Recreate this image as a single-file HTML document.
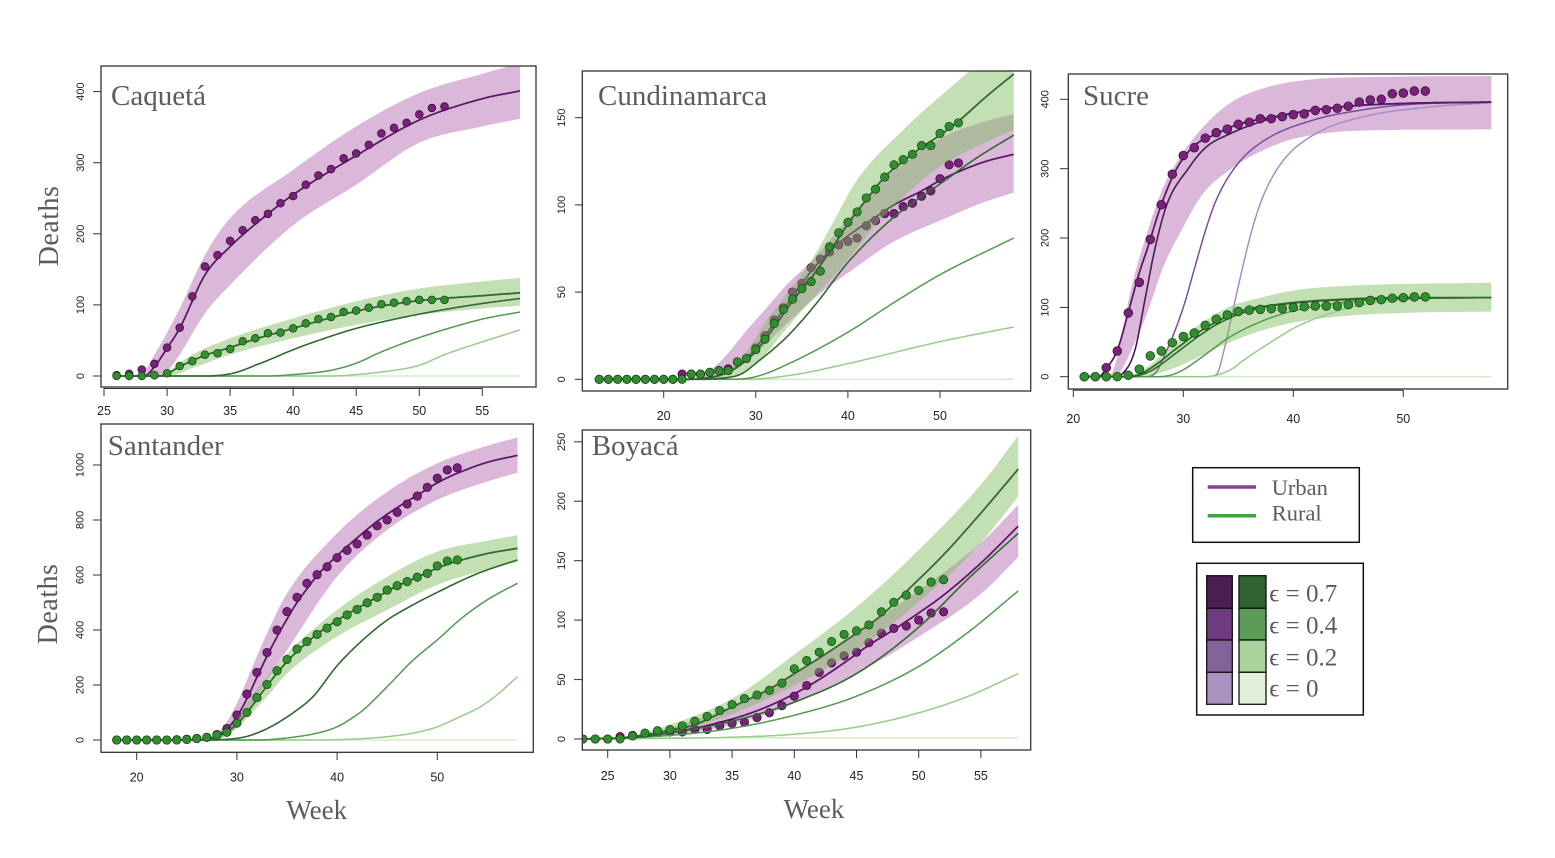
<!DOCTYPE html>
<html><head><meta charset="utf-8">
<style>
html,body{margin:0;padding:0;background:#fff;}
svg{display:block;}
.t{font-family:"Liberation Serif",serif;fill:#5c5c5c;}
.ax{font-family:"Liberation Sans",sans-serif;fill:#222;}
.xl{font-size:12.5px;text-anchor:middle;}
.yl{font-size:11px;text-anchor:middle;}
</style></head>
<body>
<svg width="1555" height="858" viewBox="0 0 1555 858" xmlns="http://www.w3.org/2000/svg">
<defs>
<clipPath id="c1"><rect x="101" y="66" width="435" height="321"/></clipPath>
<clipPath id="c2"><rect x="582.3" y="71" width="448.4" height="320"/></clipPath>
<clipPath id="c3"><rect x="1068.3" y="74" width="439.4" height="315"/></clipPath>
<clipPath id="c4"><rect x="101" y="424" width="432.3" height="328.3"/></clipPath>
<clipPath id="c5"><rect x="582.3" y="430" width="448.4" height="320"/></clipPath>
</defs>
<rect width="1555" height="858" fill="#fff"/>
<g id="g1" clip-path="url(#c1)"></g>
<g id="g2" clip-path="url(#c2)"></g>
<g id="g3" clip-path="url(#c3)"></g>
<g id="g4" clip-path="url(#c4)"></g>
<g id="g5" clip-path="url(#c5)"></g>

<g fill="none" stroke="#333" stroke-width="1.3">
<rect x="101" y="66" width="435" height="321"/>
<rect x="582.3" y="71" width="448.4" height="320"/>
<rect x="1068.3" y="74" width="439.4" height="315"/>
<rect x="101" y="424" width="432.3" height="328.3"/>
<rect x="582.3" y="430" width="448.4" height="320"/>
</g>

<!-- ticks -->
<g stroke="#333" stroke-width="1">
<!-- Caqueta -->
<line x1="104" y1="388.5" x2="482.3" y2="388.5"/>
<line x1="104" y1="388" x2="104" y2="396"/><line x1="167.1" y1="388" x2="167.1" y2="396"/><line x1="230.1" y1="388" x2="230.1" y2="396"/><line x1="293.2" y1="388" x2="293.2" y2="396"/><line x1="356.2" y1="388" x2="356.2" y2="396"/><line x1="419.3" y1="388" x2="419.3" y2="396"/><line x1="482.3" y1="388" x2="482.3" y2="396"/>
<line x1="93" y1="376" x2="101" y2="376"/><line x1="93" y1="304.9" x2="101" y2="304.9"/><line x1="93" y1="233.8" x2="101" y2="233.8"/><line x1="93" y1="162.7" x2="101" y2="162.7"/><line x1="93" y1="91.6" x2="101" y2="91.6"/>
<!-- Cundinamarca -->
<line x1="663.7" y1="391" x2="663.7" y2="398"/><line x1="755.8" y1="391" x2="755.8" y2="398"/><line x1="847.9" y1="391" x2="847.9" y2="398"/><line x1="940" y1="391" x2="940" y2="398"/>
<line x1="575" y1="379.3" x2="582.3" y2="379.3"/><line x1="575" y1="292.1" x2="582.3" y2="292.1"/><line x1="575" y1="204.9" x2="582.3" y2="204.9"/><line x1="575" y1="117.7" x2="582.3" y2="117.7"/>
<!-- Sucre -->
<line x1="1073.3" y1="390.3" x2="1403.3" y2="390.3"/>
<line x1="1073.3" y1="390" x2="1073.3" y2="397"/><line x1="1183.3" y1="390" x2="1183.3" y2="397"/><line x1="1293.3" y1="390" x2="1293.3" y2="397"/><line x1="1403.3" y1="390" x2="1403.3" y2="397"/>
<line x1="1060" y1="376.7" x2="1068.3" y2="376.7"/><line x1="1060" y1="307.4" x2="1068.3" y2="307.4"/><line x1="1060" y1="238" x2="1068.3" y2="238"/><line x1="1060" y1="168.7" x2="1068.3" y2="168.7"/><line x1="1060" y1="99.3" x2="1068.3" y2="99.3"/>
<!-- Santander -->
<line x1="136.7" y1="752.3" x2="136.7" y2="760"/><line x1="236.9" y1="752.3" x2="236.9" y2="760"/><line x1="337.1" y1="752.3" x2="337.1" y2="760"/><line x1="437.3" y1="752.3" x2="437.3" y2="760"/>
<line x1="93" y1="740" x2="101" y2="740"/><line x1="93" y1="685" x2="101" y2="685"/><line x1="93" y1="630" x2="101" y2="630"/><line x1="93" y1="575" x2="101" y2="575"/><line x1="93" y1="520" x2="101" y2="520"/><line x1="93" y1="465" x2="101" y2="465"/>
<!-- Boyaca -->
<line x1="607.7" y1="750" x2="607.7" y2="758"/><line x1="669.9" y1="750" x2="669.9" y2="758"/><line x1="732.1" y1="750" x2="732.1" y2="758"/><line x1="794.3" y1="750" x2="794.3" y2="758"/><line x1="856.5" y1="750" x2="856.5" y2="758"/><line x1="918.7" y1="750" x2="918.7" y2="758"/><line x1="980.9" y1="750" x2="980.9" y2="758"/>
<line x1="574" y1="739" x2="582.3" y2="739"/><line x1="574" y1="679.6" x2="582.3" y2="679.6"/><line x1="574" y1="620.1" x2="582.3" y2="620.1"/><line x1="574" y1="560.7" x2="582.3" y2="560.7"/><line x1="574" y1="501.2" x2="582.3" y2="501.2"/><line x1="574" y1="441.8" x2="582.3" y2="441.8"/>
</g>

<!-- tick labels -->
<g class="ax xl">
<text x="104" y="415">25</text><text x="167.1" y="415">30</text><text x="230.1" y="415">35</text><text x="293.2" y="415">40</text><text x="356.2" y="415">45</text><text x="419.3" y="415">50</text><text x="482.3" y="415">55</text>
<text x="663.7" y="420">20</text><text x="755.8" y="420">30</text><text x="847.9" y="420">40</text><text x="940" y="420">50</text>
<text x="1073.3" y="423">20</text><text x="1183.3" y="423">30</text><text x="1293.3" y="423">40</text><text x="1403.3" y="423">50</text>
<text x="136.7" y="781.5">20</text><text x="236.9" y="781.5">30</text><text x="337.1" y="781.5">40</text><text x="437.3" y="781.5">50</text>
<text x="607.7" y="780">25</text><text x="669.9" y="780">30</text><text x="732.1" y="780">35</text><text x="794.3" y="780">40</text><text x="856.5" y="780">45</text><text x="918.7" y="780">50</text><text x="980.9" y="780">55</text>
</g>
<g class="ax yl">
<text transform="translate(84,376) rotate(-90)">0</text><text transform="translate(84,304.9) rotate(-90)">100</text><text transform="translate(84,233.8) rotate(-90)">200</text><text transform="translate(84,162.7) rotate(-90)">300</text><text transform="translate(84,91.6) rotate(-90)">400</text>
<text transform="translate(565,379.3) rotate(-90)">0</text><text transform="translate(565,292.1) rotate(-90)">50</text><text transform="translate(565,204.9) rotate(-90)">100</text><text transform="translate(565,117.7) rotate(-90)">150</text>
<text transform="translate(1048.5,376.7) rotate(-90)">0</text><text transform="translate(1048.5,307.4) rotate(-90)">100</text><text transform="translate(1048.5,238) rotate(-90)">200</text><text transform="translate(1048.5,168.7) rotate(-90)">300</text><text transform="translate(1048.5,99.3) rotate(-90)">400</text>
<text transform="translate(83.5,740) rotate(-90)">0</text><text transform="translate(83.5,685) rotate(-90)">200</text><text transform="translate(83.5,630) rotate(-90)">400</text><text transform="translate(83.5,575) rotate(-90)">600</text><text transform="translate(83.5,520) rotate(-90)">800</text><text transform="translate(83.5,465) rotate(-90)">1000</text>
<text transform="translate(565,739) rotate(-90)">0</text><text transform="translate(565,679.6) rotate(-90)">50</text><text transform="translate(565,620.1) rotate(-90)">100</text><text transform="translate(565,560.7) rotate(-90)">150</text><text transform="translate(565,501.2) rotate(-90)">200</text><text transform="translate(565,441.8) rotate(-90)">250</text>
</g>

<!-- titles -->
<g class="t" font-size="29">
<text x="111" y="105">Caquetá</text>
<text x="598" y="105">Cundinamarca</text>
<text x="1083" y="105">Sucre</text>
<text x="107.7" y="455">Santander</text>
<text x="591.7" y="455">Boyacá</text>
</g>
<g class="t" font-size="28" text-anchor="middle" letter-spacing="0.5">
<text transform="translate(58,226) rotate(-90)">Deaths</text>
<text transform="translate(57,604) rotate(-90)">Deaths</text>
</g>
<g class="t" font-size="27" text-anchor="middle">
<text x="316.7" y="819">Week</text>
<text x="814" y="818">Week</text>
</g>

<!-- legend 1 -->
<rect x="1192.7" y="467.7" width="166.6" height="74.6" fill="#fff" stroke="#111" stroke-width="1.5"/>
<line x1="1207.7" y1="487" x2="1256" y2="487" stroke="#8b3d97" stroke-width="3.5"/>
<line x1="1207.7" y1="515.7" x2="1256" y2="515.7" stroke="#3aa83a" stroke-width="3.5"/>
<text class="t" x="1271.7" y="495" font-size="22.5">Urban</text>
<text class="t" x="1271.7" y="520.7" font-size="22.5">Rural</text>

<!-- legend 2 -->
<rect x="1196.7" y="563.3" width="166.6" height="151.7" fill="#fff" stroke="#111" stroke-width="1.5"/>
<g stroke="#111" stroke-width="1.3">
<rect x="1206.7" y="575.7" width="25.6" height="32.6" fill="#4b1f50"/>
<rect x="1206.7" y="608.3" width="25.6" height="31.7" fill="#6e3b80"/>
<rect x="1206.7" y="640" width="25.6" height="32.3" fill="#826399"/>
<rect x="1206.7" y="672.3" width="25.6" height="32" fill="#ab90c2"/>
<rect x="1239" y="575.7" width="27" height="32.6" fill="#2e6430"/>
<rect x="1239" y="608.3" width="27" height="31.7" fill="#5a9c58"/>
<rect x="1239" y="640" width="27" height="32.3" fill="#a8d39a"/>
<rect x="1239" y="672.3" width="27" height="32" fill="#e1efdb"/>
</g>
<g class="t" font-size="25">
<text x="1269.3" y="601.7">ϵ = 0.7</text>
<text x="1269.3" y="633.3">ϵ = 0.4</text>
<text x="1269.3" y="665.7">ϵ = 0.2</text>
<text x="1269.3" y="696.7">ϵ = 0</text>
</g>
</svg>

<script>
function mono(p){
  var n=p.length,xs=[],ys=[],d=[],m=[],i;
  for(i=0;i<n;i++){xs.push(p[i][0]);ys.push(p[i][1]);}
  for(i=0;i<n-1;i++)d.push((ys[i+1]-ys[i])/(xs[i+1]-xs[i]));
  m[0]=d[0];m[n-1]=d[n-2];
  for(i=1;i<n-1;i++){ if(d[i-1]*d[i]<=0)m[i]=0; else m[i]=(d[i-1]+d[i])/2; }
  for(i=0;i<n-1;i++){
    if(d[i]===0){m[i]=0;m[i+1]=0;continue;}
    var a=m[i]/d[i],b=m[i+1]/d[i],s=a*a+b*b;
    if(s>9){var t=3/Math.sqrt(s);m[i]=t*a*d[i];m[i+1]=t*b*d[i];}
  }
  return function(x){
    if(x<=xs[0])return ys[0]; if(x>=xs[n-1])return ys[n-1];
    var k=0; while(x>xs[k+1])k++;
    var h=xs[k+1]-xs[k],t=(x-xs[k])/h,t2=t*t,t3=t2*t;
    return (2*t3-3*t2+1)*ys[k]+(t3-2*t2+t)*h*m[k]+(-2*t3+3*t2)*ys[k+1]+(t3-t2)*h*m[k+1];
  };
}
function P(id,c){
  var X=function(w){return c.ax+(w-c.aw)*c.sx;}, Y=function(v){return c.by-v*c.sy;};
  function samp(pts){var f=mono(pts),a=[];for(var w=c.ws;w<=58+1e-6;w+=0.1)a.push([X(w),Y(f(w))]);return a;}
  function path(a){return a.map(function(p,i){return (i?'L':'M')+p[0].toFixed(1)+' '+p[1].toFixed(1);}).join('');}
  var s='';
  function band(u,l,fill,op){var A=samp(u),B=samp(l).reverse();s+='<path d="'+path(A.concat(B))+'Z" fill="'+fill+'" fill-opacity="'+op+'" stroke="none"/>';}
  function ln(pts,col,wd){s+='<path d="'+path(samp(pts))+'" fill="none" stroke="'+col+'" stroke-width="'+wd+'" stroke-linejoin="round"/>';}
  function pt(st,arr,fill,stc){for(var i=0;i<arr.length;i++){s+='<circle cx="'+X(st+i).toFixed(1)+'" cy="'+Y(arr[i]).toFixed(1)+'" r="'+c.r+'" fill="'+fill+'" stroke="'+stc+'" stroke-width="0.7"/>';}}
  band(c.pu,c.pl,'#dbb8da',1);
  (c.pext||[]).forEach(function(e){ln(e[0],e[1],e[2]);});
  ln(c.pm,'#5c1a66',1.8);
  pt(c.ps,c.pp,'#7a1f7c','#2a102a');
  band(c.gu,c.gl,'rgb(122,186,88)',0.45);
  var z=c.g5||0;
  ln([[c.ws,z],[58,z]],'#d6ebcf',1.6);
  ln(c.g4,'#96cd8a',1.5); ln(c.g3,'#519b4f',1.5); ln(c.g2,'#2f6a31',1.6);
  ln(c.gm,'#2f6b2f',1.8);
  pt(c.gs,c.gp,'#2f8f2c','#1b3b1b');
  document.getElementById(id).innerHTML=s;
}

/* Caqueta */
P('g1',{ax:104,aw:25,sx:12.61,by:376,sy:0.711,ws:26,r:3.9,
 ps:26,pp:[1,3,9,17,40,68,112,154,170,190,205,219,228,243,253,269,282,291,306,313,325,341,349,356,368,377,379],
 gs:26,gp:[0,0,0,1,4,14,21,30,32,38,49,53,60,61,67,74,80,83,90,92,96,101,103,105,107,107,107],
 pm:[[26,0],[28.2,0],[29,13],[30,39],[31,67],[33,142],[35,182],[38,228],[40,255],[45,310],[50,360],[55,390],[58,401]],
 pu:[[26,0],[27.8,0],[29,30],[31,95],[33,170],[35,222],[40,290],[45,351],[50,398],[55,425],[58,440]],
 pl:[[26,0],[29.5,0],[30,6],[31,30],[33,88],[35,128],[40,212],[45,269],[50,328],[55,351],[58,362]],
 gm:[[26,0],[29.5,0],[30,3],[31,13],[33,29],[35,40],[37,52],[40,67],[43,82],[46,95],[50,106],[55,113],[58,117]],
 gu:[[26,0],[29.3,0],[30,6],[32,30],[35,53],[40,81],[45,105],[50,123],[55,133],[58,138]],
 gl:[[26,0],[30,0],[32,11],[35,30],[40,53],[45,72],[50,86],[55,95],[58,99]],
 g2:[[26,0],[33,0],[35,3],[36,8],[37,15],[38,22],[40,37],[42,50],[45,67],[50,87],[55,102],[58,109]],
 g3:[[26,0],[38,0],[40,2],[43,8],[45,18],[47,34],[50,54],[55,80],[58,90]],
 g4:[[26,0],[43,0],[45,2],[48,8],[50,15],[52,30],[55,48],[58,65]]
});

/* Cundinamarca */
P('g2',{ax:663.7,aw:20,sx:9.21,by:379.3,sy:1.744,ws:13,r:4.2,
 ps:13,pp:[0,0,0,0,0,0,0,0,0,3,3,3,4,5,6,10,12,18,25,34,41,50,55,64,69,73,77,79,81,88,91,95,95,99,101,105,108,115,123,124],
 gs:13,gp:[0,0,0,0,0,0,0,0,0,0,3,3,4,5,5,10,12,17,23,32,40,46,52,56,62,76,84,90,96,104,109,116,123,126,129,134,134,141,145,147],
 pm:[[13,0],[22,0],[25,1],[27,4],[29,12],[31,25],[33,40],[35,55],[37,68],[39,78],[41,86],[43,93],[45,100],[48,108],[50,114],[52,119],[55,125],[58,129]],
 pu:[[13,0],[22,0],[24,2],[26.3,11],[29,28],[31,40],[33.5,55],[35.9,67],[40,92],[43.8,114],[50,138],[55,148],[58,152]],
 pl:[[13,0],[24,0],[26,2],[28,7],[30,15],[32,25],[35,40],[37.4,51],[40,61],[45,79],[50,91],[55,102],[58,107]],
 gm:[[13,0],[22,0],[25,1],[27,4],[28,7],[30,16],[32,30],[34,45],[36,58],[38,73],[40,89],[42,103],[44,116],[46,125],[48,133],[50,140],[52,148],[55,162],[58,175]],
 gu:[[13,0],[23,0],[25,1],[27,5],[29,16],[31.2,34],[33.5,50],[35.9,67],[38.5,91],[40.95,114],[46.4,145],[53.1,176.4],[58,200]],
 gl:[[13,0],[25,0],[27,1],[29,5],[31,14],[33,27],[34.8,38],[37,51],[40.2,70],[43.1,89],[45.7,103],[50,122],[55,136],[58,143]],
 g2:[[13,0],[24,0],[26,0.5],[28.4,3],[30.2,10],[33.4,24.5],[36.5,43],[40,67],[45,93],[50,112],[54,127],[58,140]],
 g3:[[13,0],[27,0],[30,1.5],[34,10],[40,27],[45,44],[50,60],[58,81]],
 g4:[[13,0],[29,0],[34,2.5],[40,9],[50,21.6],[58,30]]
});

/* Sucre */
P('g3',{ax:1073.3,aw:20,sx:11,by:376.7,sy:0.6935,ws:21,r:4.4,
 ps:21,pp:[0,0,13,37,92,136,198,248,292,319,330,344,352,357,364,367,372,372,375,378,379,384,385,387,390,396,399,400,408,409,412,412],
 gs:21,gp:[0,0,0,0,2,11,30,37,49,58,63,74,83,89,94,96,97,98,98,100,101,102,102,102,104,107,110,111,113,114,115,115],
 pext:[
  [[[21,0],[32,0],[33,3],[33.7,38],[34.5,95],[35.5,165],[36.3,215],[37.3,262],[39.1,312],[42.1,351],[46.4,375],[52.4,389],[58,395]],'#a98bc8',1.5],
  [[[21,0],[26.5,0],[27.3,3],[28.5,38],[30,100],[31,155],[32,210],[33,255],[34.85,305],[37.3,340],[41.8,370],[46.4,385],[50,392],[58,396]],'#7c4b9d',1.5],
  [[[21,0],[23.6,0],[24.5,5],[25.6,38],[26.5,110],[27.4,183],[28.5,248],[30.45,300],[32,330],[34.2,350],[37.9,372],[40,380],[45,390],[50,394],[58,396]],'#4a1a55',1.6]
 ],
 pm:[[21,0],[22.3,0],[23,12],[24,38],[25,93],[26,150],[26.7,183],[28,248],[29.4,300],[31,333],[33,350],[35,364],[38,374],[40,380],[45,390],[50,394],[58,396]],
 pu:[[21,0],[22.8,0],[23.5,5],[24.3,50],[25.15,120],[26.7,207],[28.2,274],[29.7,317],[31.8,360],[34.2,394],[37.3,416],[41.8,429],[46.4,432],[58,433.5]],
 pl:[[21,0],[23.8,0],[24.2,5],[25.15,34],[26.7,91],[28.2,159],[29.7,207],[31.8,264],[34.2,298],[37.3,327],[40.3,344],[46.4,355],[58,356.6]],
 gm:[[21,0],[24.5,0],[26,3],[27,12],[28,23],[29,36],[30,48],[31,60],[32,70],[33,79],[34,87],[35,93],[36,98],[38,103],[40,107],[45,112],[50,114],[58,114]],
 gu:[[21,0],[24.5,0],[25.15,2],[26.7,14],[28.2,34],[30,58],[32.1,82],[34.2,101],[37.3,115],[40.3,125],[46.4,132],[58,135.5]],
 gl:[[21,0],[26.5,0],[28,6],[30,18],[32,33],[34,48],[37,66],[40,78],[45,88],[50,92],[58,94]],
 g2:[[21,0],[25,0],[26,2],[27,8],[28,18],[29,30],[30,42],[31,54],[32,65],[33,75],[34,83],[35,90],[37,99],[40,106],[45,111],[50,113],[58,114]],
 g3:[[21,0],[27.5,0],[28.8,2],[30,10],[32.1,33],[34.2,57],[37.3,81],[40.3,96],[46.4,110],[52,113],[58,114]],
 g4:[[21,0],[31.5,0],[33,2],[34.5,12],[35.5,24],[37.3,43],[40.3,72],[43.3,91],[46.4,104],[50,111],[58,114]]
});

/* Santander */
P('g4',{ax:136.7,aw:20,sx:10.02,by:740,sy:0.275,ws:18,r:4.2,
 ps:18,pp:[0,0,0,0,0,0,1,3,6,10,20,42,91,167,246,318,400,467,519,570,601,630,663,690,713,745,779,800,828,858,887,919,952,982,990],
 gs:18,gp:[0,0,0,0,0,0,0,2,5,10,18,28,61,100,154,202,252,293,331,358,384,407,430,455,475,499,519,545,561,576,592,606,633,651,655],
 pm:[[18,0],[26,0],[27,3],[28,15],[29,40],[30,85],[31,150],[32,228],[33,305],[34,375],[35,440],[36,500],[37,550],[38,598],[40,670],[42,735],[44,795],[46,845],[48,890],[50,935],[52,970],[55,1010],[58,1035]],
 pu:[[18,0],[26.5,0],[27,6],[28,24],[29,67],[30,133],[31,218],[33,388],[35,533],[40,752],[45,903],[50,1006],[55,1070],[58,1100]],
 pl:[[18,0],[27.5,0],[28,3],[29,18],[30,48],[31,97],[33,218],[35,327],[40,594],[45,764],[50,873],[55,940],[58,972]],
 gm:[[18,0],[26,0],[27,3],[28,12],[29,30],[30,58],[31,98],[32,148],[33,197],[34,243],[35,285],[36,322],[38,385],[40,435],[42,478],[44,520],[46,560],[48,592],[50,625],[52,650],[55,678],[58,697]],
 gu:[[18,0],[27,0],[28,10],[29,30],[30,73],[31,133],[33,230],[35,315],[40,473],[45,594],[50,685],[55,725],[58,745]],
 gl:[[18,0],[28,0],[29,18],[30,42],[31,79],[33,158],[35,242],[40,376],[45,473],[50,564],[55,620],[58,648]],
 g2:[[18,0],[26,0],[30,6],[32.7,36],[36,109],[37.6,158],[40,270],[42.6,365],[45,436],[47.5,490],[50,537],[54,605],[58,655]],
 g3:[[18,0],[32,0],[36,12],[38,25],[40,48],[41.5,80],[42.6,109],[45,194],[47.6,291],[50,364],[52.6,448],[55,510],[58,570]],
 g4:[[18,0],[38,0],[42,4],[45,12],[48,28],[50,48],[52,80],[54.3,121],[56,165],[58,230]]
});

/* Boyaca */
P('g5',{ax:607.7,aw:25,sx:12.44,by:739,sy:1.189,ws:23,r:4.2,g5:1,
 ps:23,pp:[0,0,0,2,3,4,5,6,6,8,8,11,13,14,18,22,28,36,45,56,64,70,73,81,89,93,95,100,106,107],
 gs:23,gp:[0,0,0,0,2.5,5,7,8,11,15,19,24,29,34,37,41,47,59,66,73,82,88,91,96,107,115,121,125,132,134],
 pm:[[23,0],[26,1],[28,3],[30,6],[32,9],[34,14],[36,20],[38,28],[40,38],[42,50],[44,64],[46,79],[48,92],[50,106],[52,121],[55,148],[58,179]],
 pu:[[23,0],[26,0.5],[28,3],[30,9],[32,16],[35,27],[40,55],[45,89],[50,125],[55,165],[58,197]],
 pl:[[23,0],[28,1],[30,3],[35,12],[40,30],[45,55],[50,86],[55,122],[58,153]],
 gm:[[23,0],[26,1],[28,3.5],[30,7.5],[32,12],[35,27],[38,42],[40,55],[42,68],[45,89],[47,104],[49,124],[52,155],[55,190],[58,227]],
 gu:[[23,0],[25,0.5],[27,3],[30,12],[35,34],[40,71],[45,111],[50,159],[55,214],[58,255]],
 gl:[[23,0],[27,1],[30,5],[35,21],[40,45],[45,75],[50,115],[55,165],[58,204]],
 g2:[[23,0],[27,1],[30,5],[35,15],[40,31],[45,55],[50,94],[54,135],[58,173]],
 g3:[[23,0],[30,3],[35,9],[40,20],[45,36],[50,61],[54,90],[58,124.5]],
 g4:[[23,0],[35,1.5],[40,4],[45,10],[50,22],[54,36],[58,55]]
});
</script>
</body></html>
